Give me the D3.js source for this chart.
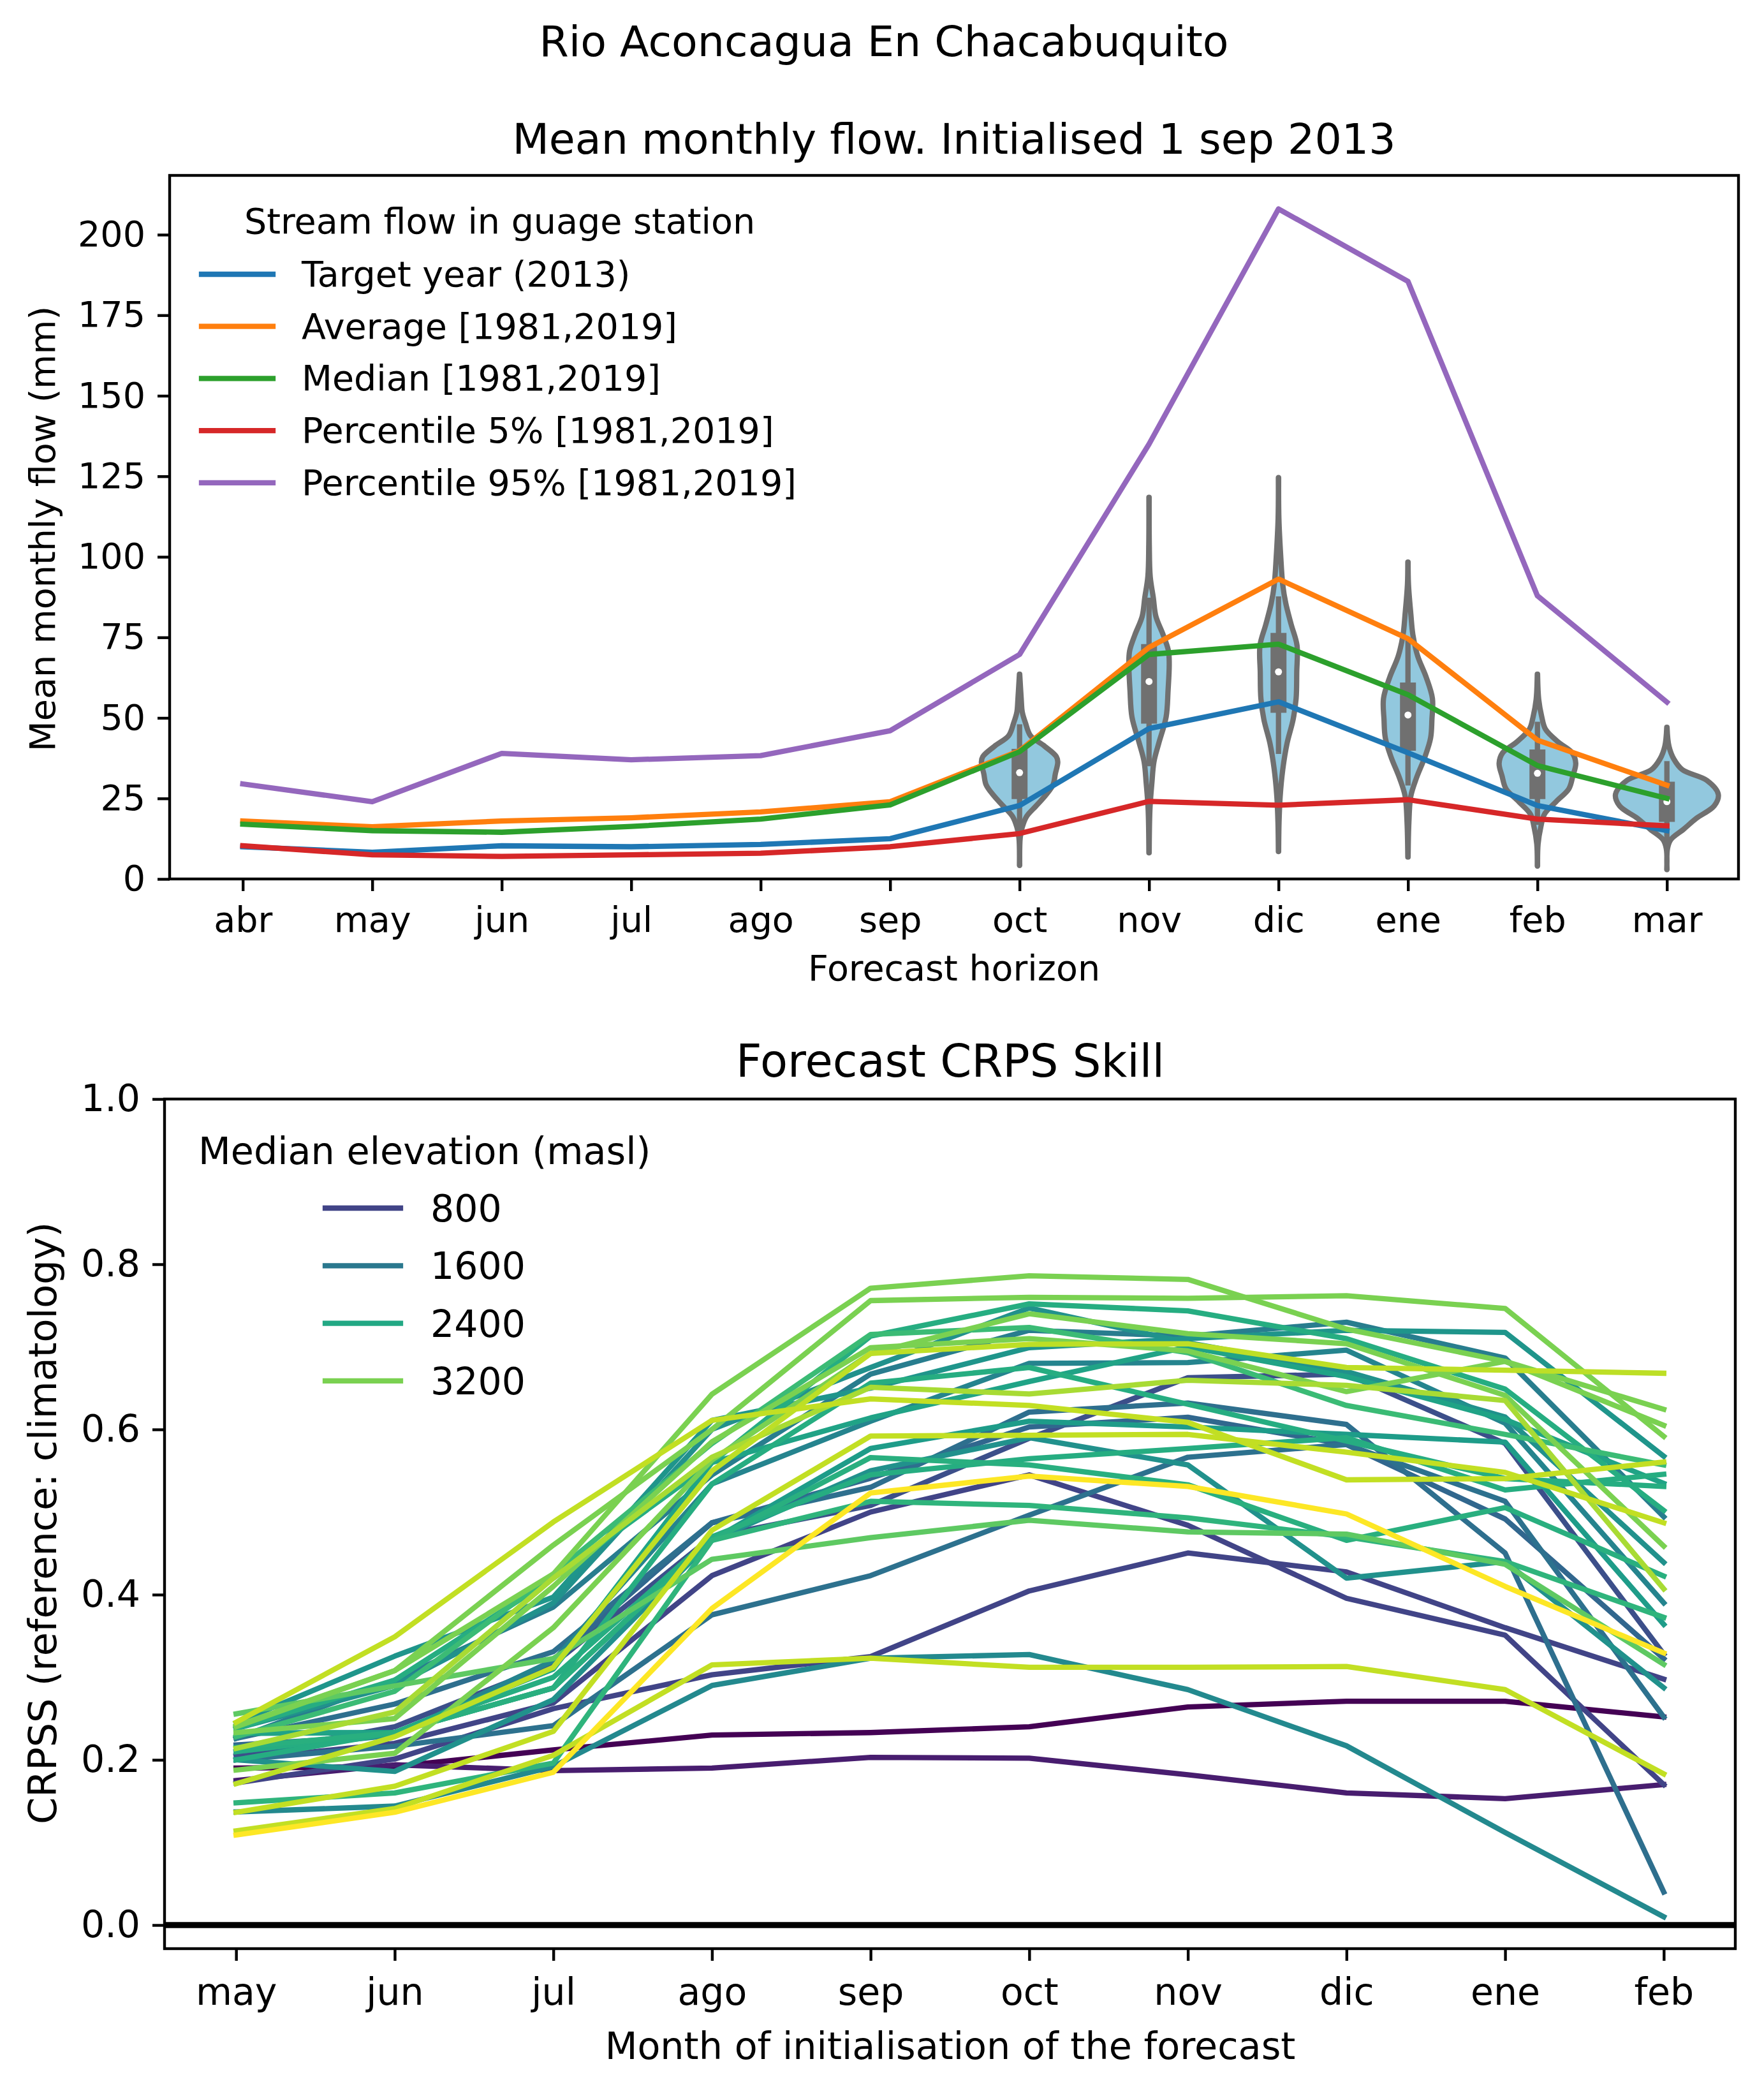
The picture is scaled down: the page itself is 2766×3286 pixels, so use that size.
<!DOCTYPE html>
<html>
<head>
<meta charset="utf-8">
<script src="https://cdn.jsdelivr.net/npm/d3@7"></script>
<style>
  body { margin: 0; background: #fff; }
  text { font-family: "DejaVu Sans"; fill: #000; }
</style>
</head>
<body>
<script>
// top panel
var horizonMonths = ["abr", "may", "jun", "jul", "ago", "sep", "oct", "nov", "dic", "ene", "feb", "mar"];
var targetYear = [10, 8.3, 10.3, 10, 10.7, 12.5, 22.8, 46.7, 55, 39.2, 22.8, 15];
var average = [18, 16.2, 18, 19, 20.8, 24, 39.8, 71.9, 93.1, 74.6, 43.1, 29.1];
var median = [17, 15, 14.5, 16.3, 18.6, 23, 39.5, 69.7, 72.9, 57.2, 35.2, 25];
var pct5 = [10.3, 7.5, 7, 7.5, 8, 10, 14.1, 24.1, 22.9, 24.6, 18.6, 16.5];
var pct95 = [29.5, 24, 39, 37, 38.3, 46, 69.7, 135, 208, 185.5, 87.9, 54.9];
var flowNames = ["Target year (2013)", "Average [1981,2019]", "Median [1981,2019]", "Percentile 5% [1981,2019]", "Percentile 95% [1981,2019]"];
var flowColors = ["#1f77b4", "#ff7f0e", "#2ca02c", "#d62728", "#9467bd"];
var flowTicks = [0, 25, 50, 75, 100, 125, 150, 175, 200];

// violins, flow level and half width (in month units) of each outline
var violinIdx = [6, 7, 8, 9, 10, 11];
var octFlow = [63.6, 55.7, 51.8, 48.4, 44.5, 41.2, 38, 36.3, 32.6, 29.3, 26, 22.7, 19.4, 16.1, 12.8, 4.2];
var octWidth = [0.001, 0.013, 0.021, 0.046, 0.084, 0.194, 0.284, 0.295, 0.276, 0.259, 0.202, 0.128, 0.054, 0.021, 0.005, 0.001];
var novFlow = [118.5, 103.7, 93.9, 87.3, 81.5, 75.8, 70.8, 66.7, 58.5, 50.3, 42.1, 36.4, 29.8, 21.7, 8.1];
var novWidth = [0.001, 0.002, 0.009, 0.033, 0.053, 0.109, 0.15, 0.156, 0.147, 0.132, 0.075, 0.038, 0.022, 0.007, 0.001];
var dicFlow = [124.6, 111.9, 99.6, 91.3, 85.6, 79, 72.5, 64.3, 56, 49.5, 42.1, 34, 25.7, 17.5, 8.5];
var dicWidth = [0.001, 0.003, 0.018, 0.033, 0.056, 0.098, 0.143, 0.141, 0.136, 0.113, 0.066, 0.033, 0.013, 0.004, 0.001];
var eneFlow = [98.4, 91.4, 82.3, 75.8, 69.2, 62.6, 56, 49.5, 43.8, 38, 31.4, 25.7, 17.5, 6.8];
var eneWidth = [0.001, 0.004, 0.022, 0.038, 0.075, 0.141, 0.189, 0.185, 0.175, 0.132, 0.066, 0.022, 0.007, 0.001];
var febFlow = [63.6, 55.7, 50.4, 46.5, 42.5, 39.2, 35.9, 31.9, 28, 24, 20.1, 16.1, 10.8, 4];
var febWidth = [0.001, 0.01, 0.033, 0.062, 0.161, 0.268, 0.296, 0.273, 0.243, 0.144, 0.054, 0.026, 0.005, 0.001];
var marFlow = [47.1, 41.2, 37.2, 33.9, 30.6, 26.3, 22.7, 18.8, 15.4, 12.2, 9.5, 2.9];
var marWidth = [0.001, 0.016, 0.054, 0.12, 0.309, 0.397, 0.366, 0.227, 0.128, 0.03, 0.005, 0.001];
var violinFlows = [octFlow, novFlow, dicFlow, eneFlow, febFlow, marFlow];
var violinWidths = [octWidth, novWidth, dicWidth, eneWidth, febWidth, marWidth];
var boxQ1 = [24.8, 48.2, 51.6, 39.8, 24.8, 17.7];
var boxQ3 = [40.4, 72.9, 76.4, 61, 40.2, 30.2];
var boxMedian = [33, 61.3, 64.3, 50.9, 32.8, 24];
var whiskerLow = [13, 35, 38.8, 29, 16.8, 11.5];
var whiskerHigh = [48, 87.3, 87.7, 74.1, 48.8, 36.6];

// bottom panel
var initMonths = ["may", "jun", "jul", "ago", "sep", "oct", "nov", "dic", "ene", "feb"];
var crpssTicks = [0, 0.2, 0.4, 0.6, 0.8, 1];
var legendElevations = [800, 1600, 2400, 3200];
var elevations = [0, 320, 800, 800, 960, 1320, 1440, 1480, 1680, 1800, 1880, 2000, 2000, 2080, 2200, 2320, 2480, 2480, 2480, 2520, 2600, 2720, 3000, 3200, 3200, 3200, 3200, 3480, 3600, 3640, 3640, 3640, 4000];
var crpss = [
  [0.19, 0.192, 0.212, 0.23, 0.233, 0.24, 0.264, 0.271, 0.271, 0.252],
  [0.175, 0.194, 0.187, 0.19, 0.203, 0.202, 0.182, 0.16, 0.153, 0.17],
  [0.172, 0.201, 0.262, 0.303, 0.325, 0.4045, 0.4504, 0.4275, 0.36, 0.2977],
  [0.2, 0.22, 0.269, 0.423, 0.5, 0.545, 0.484, 0.3955, 0.351, 0.17],
  [0.205, 0.24, 0.316, 0.47, 0.508, 0.5893, 0.6626, 0.667, 0.583, 0.328],
  [0.218, 0.2295, 0.32, 0.487, 0.541, 0.603, 0.6147, 0.5817, 0.4916, 0.3225],
  [0.226, 0.2676, 0.331, 0.487, 0.53, 0.621, 0.632, 0.606, 0.4504, 0.04],
  [0.2, 0.2165, 0.2414, 0.3756, 0.423, 0.4962, 0.5664, 0.5817, 0.513, 0.2518],
  [0.226, 0.2965, 0.385, 0.545, 0.667, 0.72, 0.713, 0.7298, 0.6865, 0.4943],
  [0.21, 0.23, 0.32, 0.534, 0.61, 0.68, 0.681, 0.696, 0.6076, 0.39],
  [0.137, 0.144, 0.192, 0.29, 0.323, 0.3275, 0.285, 0.217, 0.112, 0.01],
  [0.2, 0.186, 0.273, 0.4657, 0.55, 0.59, 0.557, 0.42, 0.44, 0.2873],
  [0.238, 0.29, 0.39, 0.6, 0.675, 0.747, 0.705, 0.67, 0.615, 0.439],
  [0.245, 0.3255, 0.397, 0.611, 0.65, 0.699, 0.71, 0.72, 0.7175, 0.5675],
  [0.2327, 0.233, 0.287, 0.466, 0.577, 0.61, 0.603, 0.594, 0.5847, 0.364],
  [0.232, 0.233, 0.31, 0.56, 0.614, 0.658, 0.7, 0.664, 0.612, 0.5347],
  [0.238, 0.2965, 0.42, 0.56, 0.713, 0.752, 0.7435, 0.7099, 0.6488, 0.502],
  [0.21, 0.233, 0.3, 0.47, 0.545, 0.5645, 0.577, 0.59, 0.5267, 0.5457],
  [0.2, 0.233, 0.287, 0.534, 0.656, 0.675, 0.6305, 0.586, 0.5405, 0.531],
  [0.215, 0.233, 0.287, 0.4657, 0.566, 0.557, 0.533, 0.4657, 0.5054, 0.4225],
  [0.148, 0.16, 0.196, 0.4657, 0.513, 0.508, 0.493, 0.47, 0.44, 0.3725],
  [0.228, 0.283, 0.425, 0.583, 0.715, 0.7235, 0.693, 0.629, 0.594, 0.557],
  [0.2557, 0.2896, 0.3227, 0.4428, 0.469, 0.49, 0.476, 0.4733, 0.4367, 0.3156],
  [0.233, 0.25, 0.41, 0.585, 0.699, 0.71, 0.695, 0.6458, 0.6824, 0.6244],
  [0.24, 0.308, 0.425, 0.6427, 0.771, 0.786, 0.7816, 0.7215, 0.6824, 0.605],
  [0.241, 0.308, 0.46, 0.6, 0.756, 0.76, 0.7588, 0.7618, 0.7465, 0.5916],
  [0.1876, 0.208, 0.36, 0.563, 0.692, 0.74, 0.716, 0.7038, 0.6412, 0.4588],
  [0.2138, 0.258, 0.42, 0.5664, 0.651, 0.643, 0.6595, 0.6534, 0.635, 0.407],
  [0.1711, 0.228, 0.312, 0.5497, 0.692, 0.703, 0.7038, 0.675, 0.6717, 0.668],
  [0.2455, 0.349, 0.488, 0.611, 0.637, 0.629, 0.6085, 0.539, 0.5405, 0.5605],
  [0.1365, 0.168, 0.2345, 0.478, 0.592, 0.593, 0.594, 0.5725, 0.548, 0.487],
  [0.114, 0.141, 0.2055, 0.315, 0.323, 0.312, 0.312, 0.313, 0.285, 0.183],
  [0.109, 0.1365, 0.185, 0.3833, 0.523, 0.5435, 0.531, 0.4977, 0.41, 0.3294]
];

var svg = d3.select("body").append("svg")
    .attr("width", 2766)
    .attr("height", 3286)
    .style("display", "block");

svg.append("rect").attr("width", 2766).attr("height", 3286).attr("fill", "#fff");

var tickLen = 19;
var spineW = 4.4;
var lineW = 8.3;

function styleAxis(g, fontSize) {
  g.selectAll(".domain").remove();
  g.selectAll("line").attr("stroke", "#000").attr("stroke-width", spineW);
  g.selectAll("text")
    .attr("font-size", fontSize)
    .style("font-family", '"DejaVu Sans"')
    .attr("fill", "#000");
}

function frame(x0, x1, y0, y1) {
  svg.append("rect")
    .attr("x", x0).attr("y", y0)
    .attr("width", x1 - x0).attr("height", y1 - y0)
    .attr("fill", "none")
    .attr("stroke", "#000")
    .attr("stroke-width", spineW);
}

function label(x, y, str, size, anchor, rotate) {
  var t = svg.append("text")
    .attr("font-size", size)
    .attr("text-anchor", anchor || "start")
    .text(str);
  if (rotate) t.attr("transform", "translate(" + x + "," + y + ") rotate(-90)");
  else t.attr("x", x).attr("y", y);
  return t;
}

// ---- top panel ----
var xTop = d3.scaleLinear().domain([-0.565, 11.553]).range([266, 2726]);
var yTop = d3.scaleLinear().domain([0, 218.4]).range([1378, 275]);

var violinArea = d3.area().curve(d3.curveCatmullRom);

violinIdx.forEach(function (month, v) {
  var rows = d3.zip(violinFlows[v], violinWidths[v]);
  svg.append("path")
    .attr("d", violinArea
      .y(function (d) { return yTop(d[0]); })
      .x0(function (d) { return xTop(month - d[1]); })
      .x1(function (d) { return xTop(month + d[1]); })(rows))
    .attr("fill", "#92c8de")
    .attr("stroke", "#707070")
    .attr("stroke-width", lineW)
    .attr("stroke-linejoin", "round");

  svg.append("line")
    .attr("x1", xTop(month)).attr("x2", xTop(month))
    .attr("y1", yTop(whiskerLow[v])).attr("y2", yTop(whiskerHigh[v]))
    .attr("stroke", "#707070").attr("stroke-width", lineW);
  svg.append("line")
    .attr("x1", xTop(month)).attr("x2", xTop(month))
    .attr("y1", yTop(boxQ1[v])).attr("y2", yTop(boxQ3[v]))
    .attr("stroke", "#707070").attr("stroke-width", 25);
  svg.append("circle")
    .attr("cx", xTop(month)).attr("cy", yTop(boxMedian[v]))
    .attr("r", 5.5).attr("fill", "#fff");
});

var flowLine = d3.line()
  .x(function (d, i) { return xTop(i); })
  .y(function (d) { return yTop(d); });

[targetYear, average, median, pct5, pct95].forEach(function (s, i) {
  svg.append("path")
    .attr("d", flowLine(s))
    .attr("fill", "none")
    .attr("stroke", flowColors[i])
    .attr("stroke-width", lineW)
    .attr("stroke-linejoin", "round")
    .attr("stroke-linecap", "square");
});

frame(266, 2726, 275, 1378);

svg.append("g")
  .attr("transform", "translate(0,1378)")
  .call(d3.axisBottom(xTop)
    .tickValues(d3.range(horizonMonths.length))
    .tickFormat(function (i) { return horizonMonths[i]; })
    .tickSize(tickLen).tickPadding(25))
  .call(styleAxis, 55.5);

svg.append("g")
  .attr("transform", "translate(266,0)")
  .call(d3.axisLeft(yTop).tickValues(flowTicks).tickSize(tickLen).tickPadding(19))
  .call(styleAxis, 55.5);

label(1386, 88, "Rio Aconcagua En Chacabuquito", 66.6, "middle");
label(1496, 241, "Mean monthly flow. Initialised 1 sep 2013", 66.6, "middle");
label(1496, 1537, "Forecast horizon", 55.5, "middle");
label(86, 829, "Mean monthly flow (mm)", 55.5, "middle", true);

label(383, 366, "Stream flow in guage station", 55.5);
flowNames.forEach(function (name, i) {
  var cy = 430 + i * 81.7;
  svg.append("line")
    .attr("x1", 316).attr("x2", 428)
    .attr("y1", cy).attr("y2", cy)
    .attr("stroke", flowColors[i])
    .attr("stroke-width", lineW)
    .attr("stroke-linecap", "square");
  label(473, cy + 19, name, 55.5);
});

// ---- bottom panel ----
var xBot = d3.scaleLinear().domain([-0.451, 9.451]).range([258, 2721]);
var yBot = d3.scaleLinear().domain([0, 1]).range([3018, 1723]);
var elevColor = d3.scaleSequential(d3.interpolateViridis).domain([0, 4000]);

var skillLine = d3.line()
  .x(function (d, i) { return xBot(i); })
  .y(function (d) { return yBot(d); });

crpss.forEach(function (s, i) {
  svg.append("path")
    .attr("d", skillLine(s))
    .attr("fill", "none")
    .attr("stroke", elevColor(elevations[i]))
    .attr("stroke-width", lineW)
    .attr("stroke-linejoin", "round")
    .attr("stroke-linecap", "square");
});

svg.append("line")
  .attr("x1", 258).attr("x2", 2721)
  .attr("y1", yBot(0)).attr("y2", yBot(0))
  .attr("stroke", "#000")
  .attr("stroke-width", 9.5);

frame(258, 2721, 1723, 3055);

svg.append("g")
  .attr("transform", "translate(0,3055)")
  .call(d3.axisBottom(xBot)
    .tickValues(d3.range(initMonths.length))
    .tickFormat(function (i) { return initMonths[i]; })
    .tickSize(tickLen).tickPadding(27))
  .call(styleAxis, 58.5);

svg.append("g")
  .attr("transform", "translate(258,0)")
  .call(d3.axisLeft(yBot).tickValues(crpssTicks).tickFormat(d3.format(".1f")).tickSize(tickLen).tickPadding(19))
  .call(styleAxis, 58.5);

label(1490, 1688, "Forecast CRPS Skill", 70.4, "middle");
label(1490, 3228, "Month of initialisation of the forecast", 58.8, "middle");
label(88, 2388, "CRPSS (reference: climatology)", 60.5, "middle", true);

label(311, 1825, "Median elevation (masl)", 58.8);
legendElevations.forEach(function (el, i) {
  var cy = 1894 + i * 90.3;
  svg.append("line")
    .attr("x1", 510).attr("x2", 628)
    .attr("y1", cy).attr("y2", cy)
    .attr("stroke", elevColor(el))
    .attr("stroke-width", lineW)
    .attr("stroke-linecap", "square");
  label(675, cy + 21, el, 58.5);
});
</script>
</body>
</html>
